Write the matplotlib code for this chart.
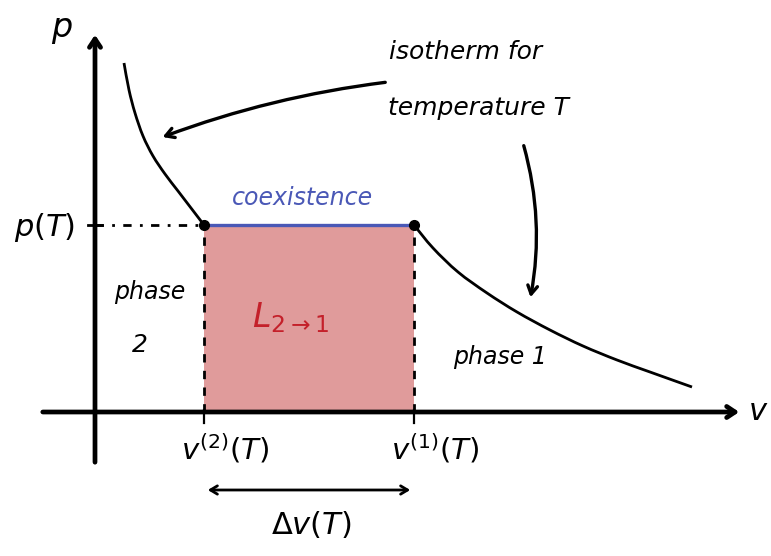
import matplotlib.pyplot as plt
import numpy as np
from matplotlib.path import Path
from matplotlib.patches import PathPatch

plt.rcParams['mathtext.fontset'] = 'dejavusans'
plt.rcParams['font.family'] = 'DejaVu Sans'

# isotherm branches (v, p)
v_left = np.array([0.58, 0.68, 0.80, 0.96, 1.16, 1.40, 1.66, 1.92, 2.18])
p_left = np.array([6.98, 6.44, 5.98, 5.52, 5.12, 4.76, 4.42, 4.08, 3.74])
v_right = np.array([6.38, 6.76, 7.26, 7.84, 8.44, 9.10, 9.76, 10.44, 11.10, 11.94])
p_right = np.array([3.74, 3.28, 2.80, 2.38, 2.00, 1.64, 1.32, 1.04, 0.80, 0.50])

# coexistence point
v2 = 2.18   # v^(2)(T)
v1 = 6.38   # v^(1)(T)
pT = 3.74   # p(T)


def smooth_path(x, y):
    # cubic bezier segments through the points (catmull-rom tangents)
    pts = np.column_stack([x, y])
    verts = [pts[0]]
    codes = [Path.MOVETO]
    n = len(pts)
    for i in range(n - 1):
        p0 = pts[max(i - 1, 0)]
        p1 = pts[i]
        p2 = pts[i + 1]
        p3 = pts[min(i + 2, n - 1)]
        verts += [p1 + (p2 - p0) / 6, p2 - (p3 - p1) / 6, p2]
        codes += [Path.CURVE4] * 3
    return Path(verts, codes)


fig = plt.figure(figsize=(7.71, 5.56), dpi=100)
ax = fig.add_axes([0, 0, 1, 1])
ax.set_xlim(-1.9, 13.52)
ax.set_ylim(-2.88, 8.24)
ax.axis('off')

hand = dict(style='italic', color='black')

# latent heat area
ax.fill_between([v2, v1], 0, pT, color='#e09b9b', lw=0, zorder=1)

# axes with arrow heads
ax.annotate('', xy=(12.94, 0), xytext=(-1.1, 0),
            arrowprops=dict(arrowstyle='->,head_length=0.6,head_width=0.4', lw=3.4, color='black'))
ax.annotate('', xy=(0, 7.6), xytext=(0, -1.06),
            arrowprops=dict(arrowstyle='->,head_length=0.6,head_width=0.4', lw=3.4, color='black'))
ax.text(-0.66, 7.64, r'$p$', fontsize=24, ha='center', va='center')
ax.text(13.26, 0.0, r'$v$', fontsize=22, ha='center', va='center')

# isotherm
for vs, ps in ((v_left, p_left), (v_right, p_right)):
    ax.add_patch(PathPatch(smooth_path(vs, ps), fill=False, ec='black', lw=2, zorder=3))
ax.plot([v2, v1], [pT, pT], color='#4a58b6', lw=2.4, zorder=3)
ax.plot([v2, v1], [pT, pT], 'o', color='black', ms=7, zorder=4)

# guide lines
ax.plot([0, v2], [pT, pT], color='black', lw=2, ls=(0, (3, 3, 1, 3)), zorder=2)
ax.plot([v2, v2], [0, pT], color='black', lw=2, ls=(0, (3, 3)), zorder=2)
ax.plot([v1, v1], [0, pT], color='black', lw=2, ls=(0, (3, 3)), zorder=2)
for vx in (v2, v1):
    ax.plot([vx, vx], [-0.22, 0.05], color='black', lw=1.6)
ax.plot([-0.14, 0.14], [pT, pT], color='black', lw=2)

# labels
ax.text(-1.0, 3.68, r'$p(T)$', fontsize=22, ha='center', va='center')
ax.text(4.15, 4.28, 'coexistence', fontsize=17, color='#4a58b6', ha='center', va='center', style='italic')
ax.text(3.9, 1.88, r'$L_{2\to1}$', fontsize=24, color='#c4202a', ha='center', va='center')
ax.text(1.1, 2.4, 'phase', fontsize=17, ha='center', va='center', **hand)
ax.text(0.9, 1.34, '2', fontsize=18, ha='center', va='center', **hand)
ax.text(8.1, 1.1, 'phase 1', fontsize=17, ha='center', va='center', **hand)
ax.text(7.42, 7.2, 'isotherm for', fontsize=18, ha='center', va='center', **hand)
ax.text(7.66, 6.08, 'temperature T', fontsize=18, ha='center', va='center', **hand)

ax.text(2.6, -0.74, r'$v^{(2)}(T)$', fontsize=21, ha='center', va='center')
ax.text(6.8, -0.74, r'$v^{(1)}(T)$', fontsize=21, ha='center', va='center')
ax.annotate('', xy=(6.36, -1.56), xytext=(2.2, -1.56),
            arrowprops=dict(arrowstyle='<->,head_length=0.5,head_width=0.3', lw=2, color='black'))
ax.text(4.32, -2.24, r'$\Delta v(T)$', fontsize=22, ha='center', va='center')

# pointers from the isotherm note
ax.annotate('', xy=(1.3, 5.48), xytext=(5.86, 6.6),
            arrowprops=dict(arrowstyle='->,head_length=0.6,head_width=0.35', lw=2.4, color='black',
                            connectionstyle='arc3,rad=0.06'))
ax.annotate('', xy=(8.7, 2.24), xytext=(8.56, 5.38),
            arrowprops=dict(arrowstyle='->,head_length=0.6,head_width=0.35', lw=2.4, color='black',
                            connectionstyle='arc3,rad=-0.12'))

fig.savefig('out.png', dpi=100)
